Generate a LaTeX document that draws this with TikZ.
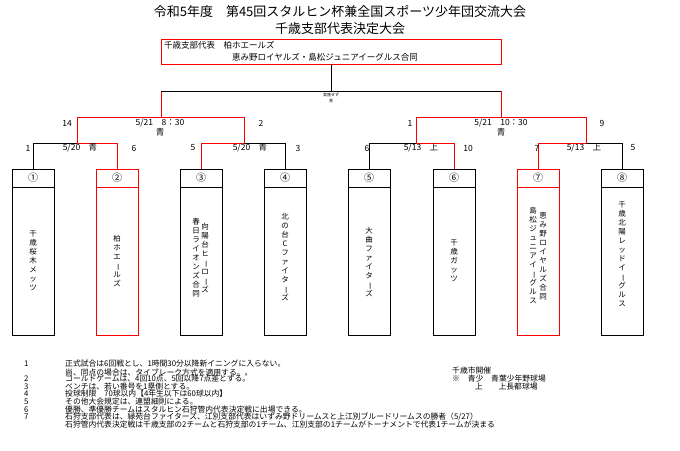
\documentclass[tikz,border=0pt]{standalone}
\usepackage{fontspec}
\setmainfont{Noto Sans CJK JP}
\usetikzlibrary{positioning,calc}

\tikzstyle{team} = [
        draw,
        thick,
        fill=white,
        rectangle,
        minimum width=42pt,
        minimum height=166pt,
        inner sep=0pt
    ]
\tikzstyle{win} = [red, thick]
\tikzstyle{lose} = [black, thick]
\tikzstyle{lbl} = [font=\fontsize{8.5}{9}\selectfont, inner sep=0pt]
\tikzstyle{vname} = [font=\fontsize{7.5}{9}\selectfont, align=center, inner sep=0pt]
\tikzstyle{note} = [font=\fontsize{7.8}{8}\selectfont, anchor=west, inner sep=0pt]
\newcommand{\vbar}{\rotatebox[origin=c]{-90}{ー}}

\begin{document}
\begin{tikzpicture}[x=1pt, y=-1pt]
        \useasboundingbox (0,0) rectangle (680,450);
        % title
        \node(ttl1) [font=\fontsize{13}{15}\selectfont] at (340,12)
            {令和5年度　第45回スタルヒン杯兼全国スポーツ少年団交流大会};
        \node(ttl2) [font=\fontsize{13}{15}\selectfont] at (340,29)
            {千歳支部代表決定大会};
        \node(champ) [draw=red, thick, minimum width=340pt, minimum height=25pt]
            at (331,51.5) {};
        \node[lbl, anchor=west] at (164,45) {千歳支部代表　柏ホエールズ};
        \node[lbl, anchor=west] at (232,57) {恵み野ロイヤルズ・島松ジュニアイーグルス合同};
        % teams
        \node(t1) [team] at (33,252) {};
        \node(t2) [team, draw=red] at (117,252) {};
        \node(t3) [team] at (201,252) {};
        \node(t4) [team] at (285,252) {};
        \node(t5) [team] at (369,252) {};
        \node(t6) [team] at (454,252) {};
        \node(t7) [team, draw=red] at (538,252) {};
        \node(t8) [team] at (622,252) {};
        \foreach \t/\c/\n in {t1/black/①, t2/red/②, t3/black/③, t4/black/④,
                t5/black/⑤, t6/black/⑥, t7/red/⑦, t8/black/⑧} {
            \draw[thick, \c] (\t.north west) ++(0,19) -- ++(42,0);
            \node[font=\fontsize{10}{12}\selectfont] at ($(\t.north)+(0,9.5)$) {\n};
        }
        \node[vname] at (33,261) {千\\歳\\桜\\木\\メ\\ッ\\ツ};
        \node[vname] at (117,261) {柏\\ホ\\エ\\\vbar\\ル\\ズ};
        \node[vname, anchor=north] at (205,223) {向\\陽\\台\\ヒ\\\vbar\\ロ\\\vbar\\ズ};
        \node[vname, anchor=north] at (196,218) {春\\日\\ラ\\イ\\オ\\ン\\ズ\\合\\同};
        \node[vname] at (285,257) {北\\の\\台\\C\\フ\\ァ\\イ\\タ\\\vbar\\ズ};
        \node[vname] at (369,262) {大\\曲\\フ\\ァ\\イ\\タ\\\vbar\\ズ};
        \node[vname] at (454,261) {千\\歳\\ガ\\ッ\\ツ};
        \node[vname, anchor=north] at (543,212) {恵\\み\\野\\ロ\\イ\\ヤ\\ル\\ズ\\合\\同};
        \node[vname, anchor=north] at (533,207) {島\\松\\ジ\\ュ\\ニ\\ア\\イ\\\vbar\\グ\\ル\\ス};
        \node[vname] at (622,254) {千\\歳\\北\\陽\\レ\\ッ\\ド\\イ\\\vbar\\グ\\ル\\ス};
        % bracket points
        \coordinate(r1a) at (33,143);  \coordinate(r1m) at (77,143);  \coordinate(r1b) at (117,143);
        \coordinate(r2a) at (201,143); \coordinate(r2m) at (244,143); \coordinate(r2b) at (285,143);
        \coordinate(r3a) at (369,143); \coordinate(r3m) at (416,143); \coordinate(r3b) at (454,143);
        \coordinate(r4a) at (538,143); \coordinate(r4m) at (586,143); \coordinate(r4b) at (622,143);
        \coordinate(s1a) at (77,117);  \coordinate(s1m) at (161,117); \coordinate(s1b) at (244,117);
        \coordinate(s2a) at (416,117); \coordinate(s2m) at (501,117); \coordinate(s2b) at (586,117);
        \coordinate(f1) at (161,91);   \coordinate(fm) at (331,91);   \coordinate(f2) at (501,91);
        % first round
        \draw[lose] (t1.north) -- (r1a) -- (r1m);
        \draw[win] (r1m) -- (r1b) -- (t2.north);
        \draw[win] (t3.north) -- (r2a) -- (r2m);
        \draw[lose] (r2m) -- (r2b) -- (t4.north);
        \draw[lose] (t5.north) -- (r3a) -- (r3m);
        \draw[win] (r3m) -- (r3b) -- (t6.north);
        \draw[win] (t7.north) -- (r4a) -- (r4m);
        \draw[lose] (r4m) -- (r4b) -- (t8.north);
        % semi finals
        \draw[win] (r1m) -- (s1a) -- (s1b) -- (r2m);
        \draw[win] (r3m) -- (s2a) -- (s2b) -- (r4m);
        \draw[win] (s1m) -- (f1);
        \draw[win] (s2m) -- (f2);
        % final
        \draw[lose] (f1) -- (f2);
        \draw[lose] (fm) -- (champ.south);
        \node[font=\fontsize{4}{5}\selectfont] at (331,95) {実施せず};
        \node[font=\fontsize{4}{5}\selectfont] at (331,101) {青};
        % scores and dates
        \foreach \x/\y/\s in {67/123/14, 160/123/{5/21　8：30}, 160/132/青, 261/123/2,
                410/123/1, 501/123/{5/21　10：30}, 501/132/青, 602/123/9,
                28/148/1, 80/148/{5/20　青}, 134/148/6,
                193/148/5, 250/148/{5/20　青}, 298/148/3,
                367/148/6, 421/148/{5/13　上}, 468/148/10,
                537/148/7, 584/148/{5/13　上}, 633/148/5} {
            \node[lbl] at (\x,\y) {\s};
        }
        % rules
        \foreach \y/\n in {364/1, 379/2, 387/3, 394/4, 402/5, 410/6, 417/7} {
            \node[note] at (24,\y) {\n};
        }
        \node[note] at (65,364) {正式試合は6回戦とし、1時間30分以降新イニングに入らない。};
        \node[note] at (65,372) {尚、同点の場合は、タイブレーク方式を適用する。。};
        \node[note] at (65,379) {コールドゲームは、4回10点、5回以降7点差とする。};
        \node[note] at (65,387) {ベンチは、若い番号を1塁側とする。};
        \node[note] at (65,394) {投球制限　70球以内【4年生以下は60球以内】};
        \node[note] at (65,402) {その他大会規定は、連盟細則による。};
        \node[note] at (65,410) {優勝、準優勝チームはスタルヒン石狩管内代表決定戦に出場できる。};
        \node[note] at (65,417) {石狩支部代表は、緑苑台ファイターズ、江別支部代表はいずみ野ドリームスと上江別ブルードリームスの勝者（5/27）};
        \node[note] at (65,425) {石狩管内代表決定戦は千歳支部の2チームと石狩支部の1チーム、江別支部の1チームがトーナメントで代表1チームが決まる};
        \node[note] at (452,371) {千歳市開催};
        \node[note] at (452,379) {※　青少　青葉少年野球場};
        \node[note] at (475,387) {上　　上長都球場};
    \end{tikzpicture}
\end{document}
